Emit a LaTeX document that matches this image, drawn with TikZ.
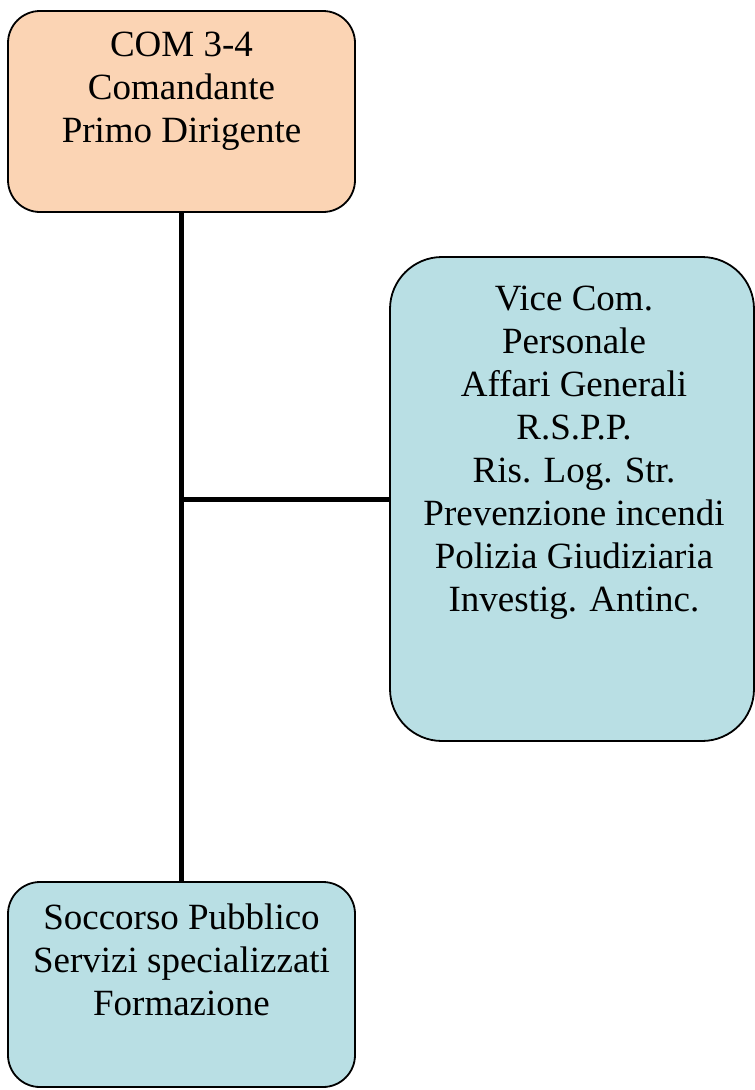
\documentclass[tikz,border=0pt]{standalone}
\usepackage{fontspec}
\setmainfont{Liberation Serif}
\definecolor{peach}{HTML}{FBD4B4}
\definecolor{paleblue}{HTML}{B9DFE4}
\begin{document}
\begin{tikzpicture}[x=1pt,y=-1pt,
  box/.style={draw=black,line width=1.8pt,rounded corners=32pt,inner sep=0pt},
  lbl/.style={anchor=north,align=center,inner sep=0pt,font=\fontsize{37}{43}\selectfont},
  conn/.style={draw=black,line width=5.5pt}]
\useasboundingbox (0,0) rectangle (755,1090);
\node[box,fill=peach,minimum width=347pt,minimum height=201pt] (top) at (181.5,111.5) {};
\node[box,fill=paleblue,rounded corners=52pt,minimum width=364pt,minimum height=484pt] (right) at (572,499) {};
\node[box,fill=paleblue,minimum width=347pt,minimum height=205pt] (bottom) at (181.5,984.5) {};
\node[lbl] (toptext) at (181.5,32) {COM 3-4\\Comandante\\Primo Dirigente};
\node[lbl] (righttext) at (574,286) {Vice Com.\\Personale\\Affari Generali\\R.S.P.P.\\Ris. Log. Str.\\Prevenzione incendi\\Polizia Giudiziaria\\Investig. Antinc.};
\node[lbl] (bottomtext) at (181.5,904) {Soccorso Pubblico\\Servizi specializzati\\Formazione};
\draw[conn] (top.south) -- (bottom.north);
\draw[conn,line width=5pt] (top.south |- right.west) -- (right.west);
\end{tikzpicture}
\end{document}
